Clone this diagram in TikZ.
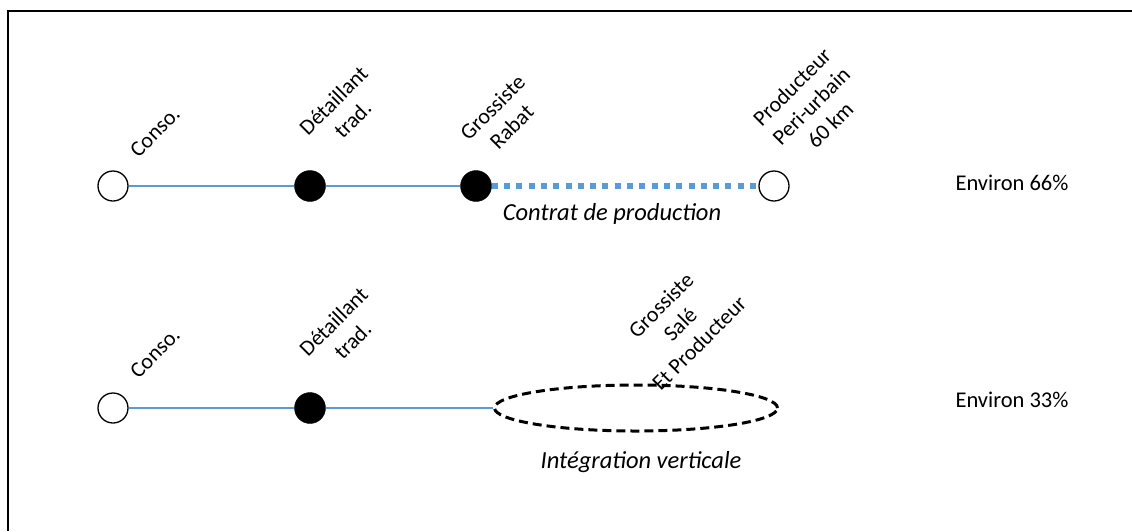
\documentclass[tikz,border=0pt]{standalone}
\usepackage{fontspec}
\setmainfont{Carlito}
\usepackage{xcolor}
\usetikzlibrary{shapes.geometric, positioning}
\definecolor{lineblue}{RGB}{91,155,213}
\tikzstyle{opennode} = [circle, minimum size=30pt, inner sep=0pt, draw=black, line width=1.3pt, fill=white]
\tikzstyle{fullnode} = [circle, minimum size=31pt, inner sep=0pt, draw=black, fill=black]
\tikzstyle{tag} = [rotate=45, align=center, font=\fontsize{22}{27}\selectfont, inner sep=0pt]
\tikzstyle{note} = [font=\fontsize{24.5}{28}\selectfont\itshape, inner sep=0pt]
\tikzstyle{share} = [font=\fontsize{22.5}{26}\selectfont, inner sep=0pt]
\tikzstyle{link} = [lineblue, line width=1.5pt]
\tikzstyle{contract} = [lineblue, line width=6pt, dash pattern=on 6pt off 6.3pt]
\tikzstyle{merged} = [ellipse, minimum width=283pt, minimum height=46pt, draw=black, line width=3pt, dash pattern=on 9pt off 5pt]
\begin{document}
\begin{tikzpicture}[x=1pt, y=-1pt, node distance=166pt]
\useasboundingbox (0,0) rectangle (1132,531);

% Frame
\draw [line width=2pt] (8,531) -- (8,11) -- (1132,11);

% Nodes for first chain
\node (conso1) [opennode] at (113,186) {};
\node (detail1) [fullnode, right of=conso1, xshift=31pt] {};
\node (gros1) [fullnode, right of=detail1] {};
\node (prod1) [opennode, right of=gros1, xshift=132pt] {};

% Nodes for second chain
\node (conso2) [opennode] at (113,408) {};
\node (detail2) [fullnode, right of=conso2, xshift=31pt] {};
\node (integ) [merged, right of=detail2, xshift=160pt] {};

% Links for first chain
\draw [link] (conso1) -- (detail1);
\draw [link] (detail1) -- (gros1);
\draw [contract] (gros1) -- (prod1);

% Links for second chain
\draw [link] (conso2) -- (detail2);
\draw [link] (detail2) -- (integ.west);

% Labels
\node (tconso1) [tag] at (155,132) {Conso.};
\node (tdetail1) [tag] at (343,110) {Détaillant\\trad.};
\node (tgros1) [tag] at (502,117) {Grossiste\\Rabat};
\node (tprod1) [tag] at (811,106) {Producteur\\Peri-urbain\\60 km};
\node (tconso2) [tag] at (155,353) {Conso.};
\node (tdetail2) [tag] at (343,331) {Détaillant\\trad.};
\node (tinteg) [tag] at (680,324) {Grossiste\\Salé\\Et Producteur};

\node (contrat) [note] at (612,214) {Contrat de production};
\node (vertical) [note] at (641,462) {Intégration verticale};
\node (share1) [share] at (1012,183) {Environ 66\%};
\node (share2) [share] at (1012,400) {Environ 33\%};

\end{tikzpicture}
\end{document}
